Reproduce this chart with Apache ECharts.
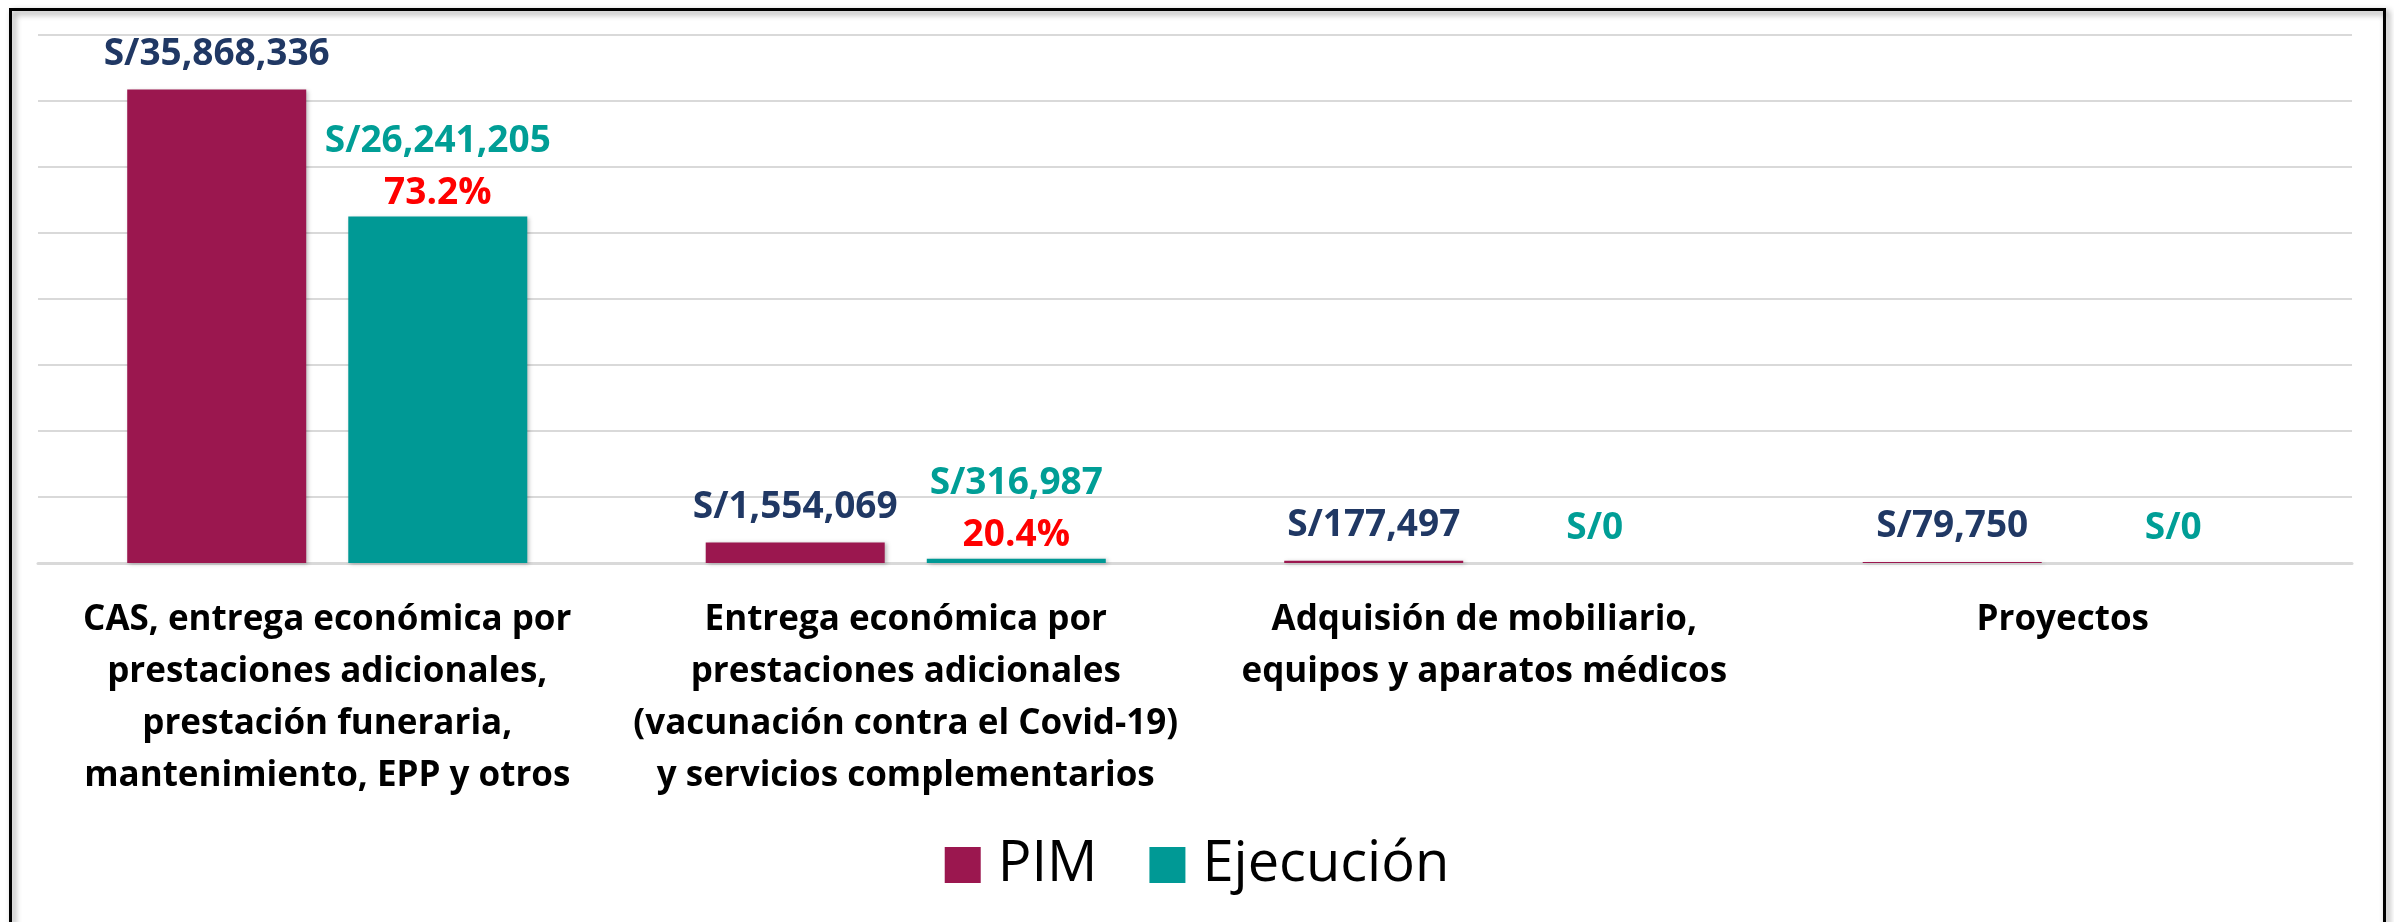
<!DOCTYPE html>
<html>
<head>
<meta charset="utf-8">
<style>
  html, body { margin: 0; padding: 0; background: #ffffff; }
  #chart { width: 2394px; height: 922px; }
</style>
<script src="https://cdn.jsdelivr.net/npm/echarts@6/dist/echarts.min.js"></script>
</head>
<body>
<div id="chart"></div>
<script>
const categories = [
  'CAS, entrega económica por\nprestaciones adicionales,\nprestación funeraria,\nmantenimiento, EPP y otros',
  'Entrega económica por\nprestaciones adicionales\n(vacunación contra el Covid-19)\ny servicios complementarios',
  'Adquisión de mobiliario,\nequipos y aparatos médicos',
  'Proyectos'
];
const seriesNames = ['PIM', 'Ejecución'];
const pimValues = [35868336, 1554069, 177497, 79750];
const ejecucionValues = [26241205, 316987, 0, 0];
const yMin = 0;
const yMax = 40000000;
const yInterval = 5000000;

const FONT = "'Open Sans', 'Noto Sans', sans-serif";
const money = v => 'S/' + Number(v).toLocaleString('en-US');

const chart = echarts.init(document.getElementById('chart'), null, { renderer: 'canvas' });

const option = {
  backgroundColor: '#ffffff',
  animation: false,
  graphic: [{
    type: 'rect',
    left: 8, top: 7,
    shape: { x: 0, y: 0, width: 2374, height: 980 },
    style: {
      fill: 'none', stroke: '#000000', lineWidth: 3,
      shadowColor: 'rgba(0,0,0,0.45)', shadowBlur: 6, shadowOffsetX: 3, shadowOffsetY: 3
    },
    z: 100
  }],
  grid: { left: 38, right: 42, top: 35, bottom: 359, containLabel: false },
  legend: {
    data: seriesNames,
    left: 'center',
    top: 832,
    itemWidth: 36,
    itemHeight: 36,
    itemGap: 52,
    icon: 'rect',
    textStyle: { fontFamily: FONT, fontSize: 56, color: '#000000', padding: [0, 0, 0, 12] }
  },
  xAxis: {
    type: 'category',
    data: categories,
    axisLine: { show: true, lineStyle: { color: '#d9d9d9', width: 3 } },
    axisTick: { show: false },
    axisLabel: {
      interval: 0,
      margin: 31,
      fontFamily: FONT,
      fontWeight: 'bold',
      fontSize: 35,
      lineHeight: 52,
      color: '#000000',
      align: 'center',
      verticalAlign: 'top'
    }
  },
  yAxis: {
    type: 'value',
    min: yMin,
    max: yMax,
    interval: yInterval,
    axisLabel: { show: false },
    axisLine: { show: false },
    axisTick: { show: false },
    splitLine: { lineStyle: { color: '#d9d9d9', width: 2 } }
  },
  series: [
    {
      name: seriesNames[0],
      type: 'bar',
      data: pimValues,
      barWidth: 179,
      barGap: '23.5%',
      itemStyle: {
        color: '#9B174F',
        shadowColor: 'rgba(0,0,0,0.25)', shadowBlur: 4, shadowOffsetX: 2, shadowOffsetY: 1
      },
      label: {
        show: true,
        position: 'top',
        distance: 13,
        fontFamily: FONT,
        fontWeight: 'bold',
        fontSize: 37,
        lineHeight: 44,
        color: '#203864',
        formatter: p => money(p.value)
      }
    },
    {
      name: seriesNames[1],
      type: 'bar',
      data: ejecucionValues,
      barWidth: 179,
      itemStyle: {
        color: '#009995',
        shadowColor: 'rgba(0,0,0,0.25)', shadowBlur: 4, shadowOffsetX: 2, shadowOffsetY: 1
      },
      label: {
        show: true,
        position: 'top',
        distance: 3,
        formatter: p => {
          const base = pimValues[p.dataIndex];
          const v = p.value;
          if (v > 0 && base > 0) {
            const pct = (v / base * 100).toFixed(1) + '%';
            return '{v|' + money(v) + '}\n{p|' + pct + '}';
          }
          return '{v|' + money(v) + '}';
        },
        rich: {
          v: { fontFamily: FONT, fontWeight: 'bold', fontSize: 37, lineHeight: 64, color: '#009E96' },
          p: { fontFamily: FONT, fontWeight: 'bold', fontSize: 37, lineHeight: 40, color: '#FF0000' }
        }
      }
    }
  ]
};

chart.setOption(option);
</script>
</body>
</html>
